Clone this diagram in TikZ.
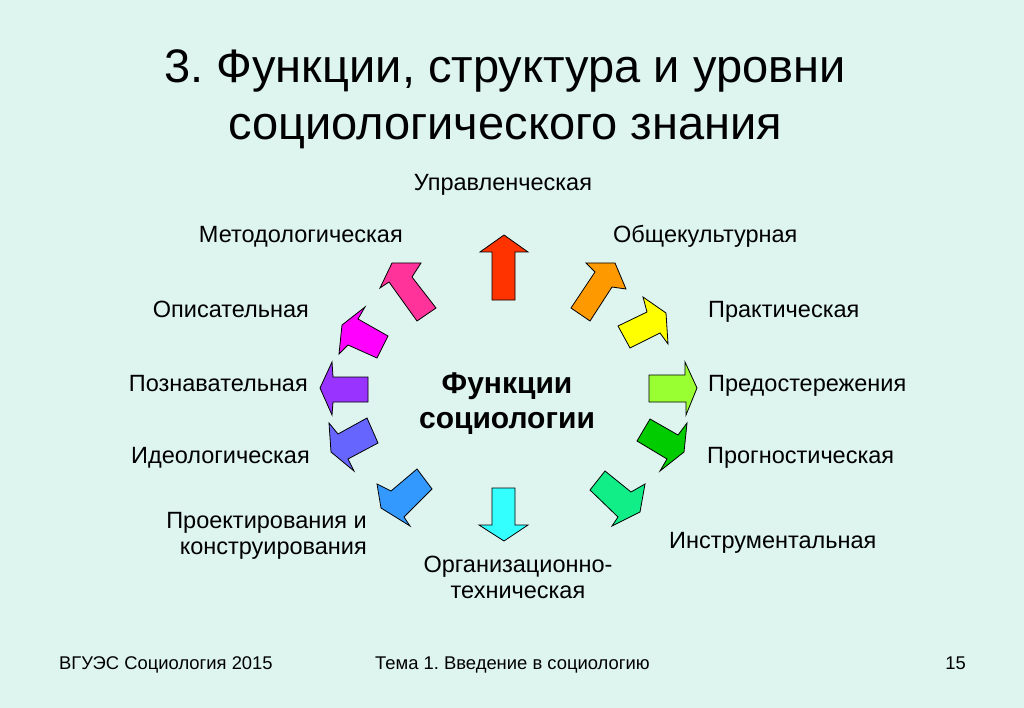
\documentclass[tikz,border=0pt]{standalone}
\usepackage{fontspec}
\setmainfont{Liberation Sans}
\usepackage{tikz}
\frenchspacing
\definecolor{bgcol}{HTML}{DDF4EF}
\definecolor{upcol}{HTML}{FF3300}
\definecolor{orcol}{HTML}{FF9900}
\definecolor{yecol}{HTML}{FFFF00}
\definecolor{licol}{HTML}{99FF33}
\definecolor{grcol}{HTML}{00CC00}
\definecolor{tecol}{HTML}{11EE88}
\definecolor{cycol}{HTML}{33FFFF}
\definecolor{blcol}{HTML}{3399FF}
\definecolor{vbcol}{HTML}{6666FF}
\definecolor{pucol}{HTML}{9933FF}
\definecolor{macol}{HTML}{FF00FF}
\definecolor{picol}{HTML}{FF3399}
\newcommand{\blockarrow}[8]{% #1 colour, #2 tail, #3 neck, #4 head corner, #5 tip, #6 head corner, #7 neck, #8 tail
  \draw[fnarrow, fill=#1] #2 -- #3 -- #4 -- #5 -- #6 -- #7 -- #8 -- cycle;
}
\tikzset{
  fnarrow/.style={draw=black, line width=0.8pt, line join=miter},
  lbl/.style={font=\fontsize{23.5}{26}\selectfont, inner sep=0pt, align=center},
  foot/.style={font=\fontsize{18.4}{21}\selectfont, inner sep=0pt}
}

\begin{document}
\begin{tikzpicture}[x=1pt, y=-1pt]
      \fill[bgcol] (0,0) rectangle (1024,708);
      \useasboundingbox (0,0) rectangle (1024,708);
      % multi-line nodes sit on the baseline of their last line
      \node[inner sep=0pt, align=center, anchor=base, font=\fontsize{47}{57}\selectfont] (title) at (505,140)
        {3. Функции, структура и уровни\\социологического знания};
      \node[inner sep=0pt, align=center, anchor=base, font=\fontsize{30}{35}\selectfont\bfseries] (fn) at (507,428)
        {Функции\\социологии};
      % arrows round the centre
      \blockarrow{upcol}{(492,300)}{(492,252)}{(480,252)}{(504,235)}{(528,252)}{(515,252)}{(515,300)}
      \blockarrow{orcol}{(571,308)}{(595,272)}{(586,263)}{(615,263)}{(626,289)}{(612,287)}{(590,321)}
      \blockarrow{yecol}{(618,326)}{(647,312)}{(643,297)}{(666,313)}{(668,344)}{(660,333)}{(630,348)}
      \blockarrow{licol}{(649,375)}{(685,375)}{(685,362)}{(697,388)}{(686,415)}{(686,402)}{(649,402)}
      \blockarrow{grcol}{(650,419)}{(678,435)}{(687,423)}{(684,452)}{(660,471)}{(667,459)}{(637,441)}
      \blockarrow{tecol}{(605,471)}{(631,492)}{(645,484)}{(640,512)}{(612,526)}{(618,517)}{(590,490)}
      \blockarrow{cycol}{(492,488)}{(492,525)}{(479,525)}{(504,541)}{(528,525)}{(515,525)}{(515,488)}
      \blockarrow{blcol}{(417,469)}{(391,491)}{(377,484)}{(381,508)}{(410,526)}{(404,517)}{(432,489)}
      \blockarrow{vbcol}{(367,418)}{(338,434)}{(329,423)}{(331,452)}{(354,471)}{(348,459)}{(378,443)}
      \blockarrow{pucol}{(368,377)}{(333,377)}{(332,362)}{(320,388)}{(332,415)}{(333,402)}{(368,402)}
      \blockarrow{macol}{(388,336)}{(358,319)}{(365,307)}{(342,325)}{(339,354)}{(348,345)}{(377,358)}
      \blockarrow{picol}{(417,321)}{(389,282)}{(380,288)}{(392,263)}{(421,263)}{(412,277)}{(436,308)}
      % function labels
      \node[lbl, anchor=base] (upr) at (503,191) {Управленческая};
      \node[lbl, anchor=base east] (metod) at (403,243) {Методологическая};
      \node[lbl, anchor=base east] (opis) at (309,317) {Описательная};
      \node[lbl, anchor=base east] (pozn) at (308,391) {Познавательная};
      \node[lbl, anchor=base east] (ideol) at (310,463) {Идеологическая};
      \node[lbl, align=right, anchor=base east] (proekt) at (367,554) {Проектирования и\\конструирования};
      \node[lbl, anchor=base] (org) at (518,598) {Организационно-\\техническая};
      \node[lbl, anchor=base west] (obshch) at (613,243) {Общекультурная};
      \node[lbl, anchor=base west] (prakt) at (708,317) {Практическая};
      \node[lbl, anchor=base west] (predost) at (708,391) {Предостережения};
      \node[lbl, anchor=base west] (progn) at (707,463) {Прогностическая};
      \node[lbl, anchor=base west] (instr) at (669,548) {Инструментальная};
      % footer
      \node[foot, anchor=base west] (vuz) at (59,669) {ВГУЭС Социология 2015};
      \node[foot, anchor=base west] (tema) at (375,669) {Тема 1. Введение в социологию};
      \node[foot, anchor=base east] (num) at (966,669) {15};
\end{tikzpicture}
\end{document}
